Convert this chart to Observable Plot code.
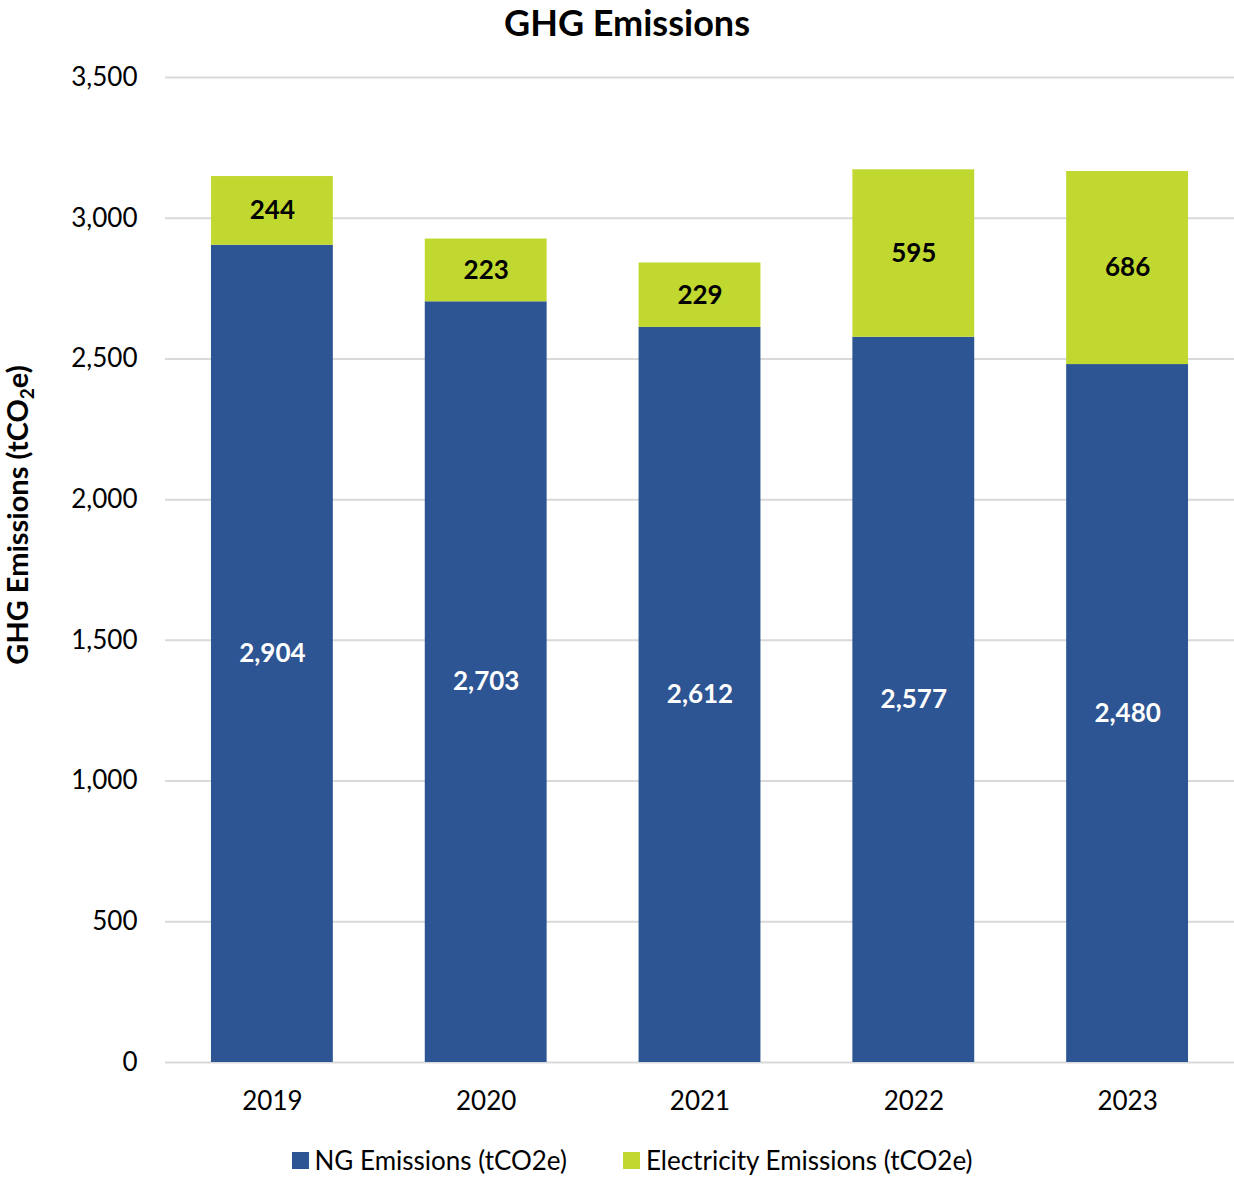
<!DOCTYPE html>
<html>
<head>
<meta charset="utf-8">
<script src="https://cdn.jsdelivr.net/npm/d3@7"></script>
<script src="https://cdn.jsdelivr.net/npm/@observablehq/plot@0.6"></script>
<style>
  body { margin: 0; background: #fff; font-family: Lato, "Open Sans", sans-serif; }
  #title { height: 44px; text-align: center; font-weight: bold; font-size: 36px; line-height: 44px; color: #000; padding-left: 20px; }
  #legend { display: flex; justify-content: center; gap: 56px; font-size: 26px; color: #000; margin-top: 22px; padding-left: 30px; }
  #legend .item { display: flex; align-items: center; gap: 6px; }
  #legend .sw { width: 17px; height: 17px; display: inline-block; }
</style>
</head>
<body>
<div id="title">GHG Emissions</div>
<div id="chart"></div>
<div id="legend"></div>
<script>
const years = ["2019", "2020", "2021", "2022", "2023"];
const seriesNames = ["NG Emissions (tCO2e)", "Electricity Emissions (tCO2e)"];
const ngValues = [2904, 2703, 2612, 2577, 2480];
const elecValues = [244, 223, 229, 595, 686];
const colors = ["#2E5593", "#C0D82F"];
const yTicks = [0, 500, 1000, 1500, 2000, 2500, 3000, 3500];

const data = [];
years.forEach((y, i) => data.push({year: y, series: seriesNames[0], value: ngValues[i]}));
years.forEach((y, i) => data.push({year: y, series: seriesNames[1], value: elecValues[i]}));

const fmt = d3.format(",");

const plot = Plot.plot({
  width: 1234,
  height: 1078,
  marginTop: 33,
  marginBottom: 60,
  marginLeft: 165,
  marginRight: 0,
  style: { fontFamily: "Lato, 'Open Sans', sans-serif", fontSize: "26px", color: "#000", background: "#fff" },
  x: { domain: years, paddingInner: 0.43, paddingOuter: 0.215, round: false, label: null, tickSize: 0, tickPadding: 29 },
  y: { domain: [0, 3500], ticks: yTicks, tickFormat: fmt, label: null, tickSize: 0, tickPadding: 28 },
  color: { domain: seriesNames, range: colors },
  marks: [
    Plot.ruleY(yTicks, { stroke: "#d9d9d9", strokeWidth: 2 }),
    Plot.barY(data, Plot.stackY({ x: "year", y: "value", z: "series", fill: "series" })),
    Plot.text(data, Plot.stackY({ x: "year", y: "value", z: "series",
      text: d => d.series === seriesNames[0] ? fmt(d.value) : null,
      fill: "white", fontWeight: "bold", fontSize: 26 })),
    Plot.text(data, Plot.stackY({ x: "year", y: "value", z: "series",
      text: d => d.series === seriesNames[1] ? fmt(d.value) : null,
      fill: "black", fontWeight: "bold", fontSize: 26 }))
  ]
});

// y-axis title with subscript
const ns = "http://www.w3.org/2000/svg";
const t = document.createElementNS(ns, "text");
t.setAttribute("transform", "translate(28,471) rotate(-90)");
t.setAttribute("text-anchor", "middle");
t.setAttribute("font-weight", "bold");
t.setAttribute("font-size", "29");
t.setAttribute("fill", "#000");
t.appendChild(document.createTextNode("GHG Emissions (tCO"));
const sub = document.createElementNS(ns, "tspan");
sub.setAttribute("font-size", "19");
sub.setAttribute("dy", "6");
sub.textContent = "2";
t.appendChild(sub);
const rest = document.createElementNS(ns, "tspan");
rest.setAttribute("dy", "-6");
rest.textContent = "e)";
t.appendChild(rest);
plot.appendChild(t);

document.getElementById("chart").appendChild(plot);

const legend = document.getElementById("legend");
seriesNames.forEach((name, i) => {
  const item = document.createElement("div");
  item.className = "item";
  const sw = document.createElement("span");
  sw.className = "sw";
  sw.style.background = colors[i];
  item.appendChild(sw);
  const lbl = document.createElement("span");
  lbl.textContent = name;
  item.appendChild(lbl);
  legend.appendChild(item);
});
</script>
</body>
</html>
